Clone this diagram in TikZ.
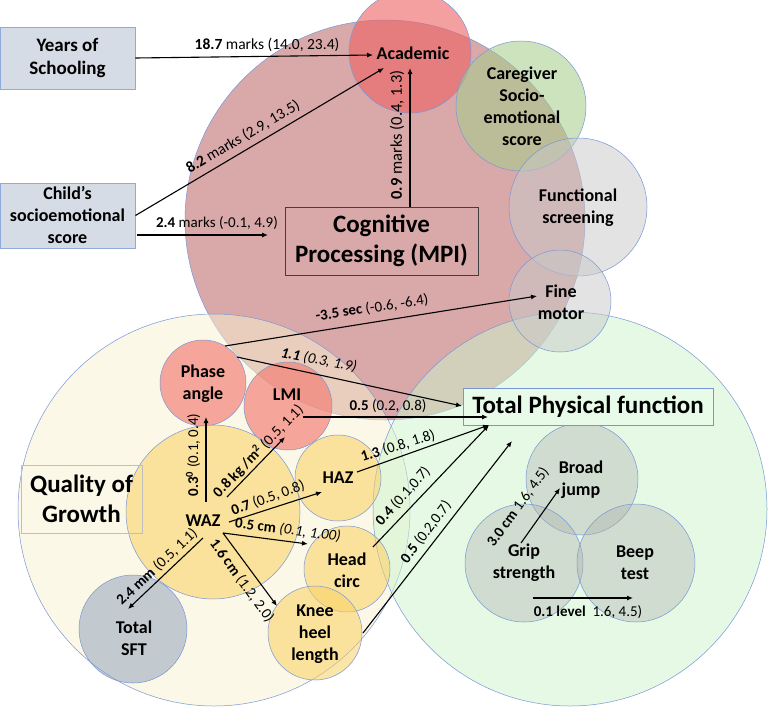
\documentclass[tikz,border=0pt]{standalone}
\usepackage{fontspec}
\setmainfont{Carlito}
\usetikzlibrary{arrows.meta}
\definecolor{cogc}{RGB}{171,66,68}
\definecolor{acadc}{RGB}{238,97,97}
\definecolor{carec}{RGB}{163,205,138}
\definecolor{greyc}{RGB}{201,201,201}
\definecolor{creamc}{RGB}{251,243,209}
\definecolor{physc}{RGB}{205,245,205}
\definecolor{salmc}{RGB}{242,122,112}
\definecolor{yelc}{RGB}{250,208,97}
\definecolor{sftc}{RGB}{138,155,185}
\definecolor{fitc}{RGB}{175,178,175}
\definecolor{edgec}{RGB}{120,150,215}
\definecolor{boxfill}{RGB}{214,220,229}
\definecolor{boxedge}{RGB}{143,170,220}
\definecolor{tpfill}{RGB}{232,250,232}
\tikzset{
  circ/.style={draw=edgec, line width=0.5pt},
  lbl/.style={font=\bfseries\fontsize{18}{22}\selectfont, align=center, text=black, inner sep=1pt},
  big/.style={font=\bfseries\fontsize{25}{30}\selectfont, align=center, inner sep=1pt},
  arr/.style={-{Latex[length=6pt,width=5pt]}, line width=1.1pt},
  val/.style={font=\fontsize{15}{17}\selectfont, inner sep=0pt},
  valbig/.style={font=\fontsize{15.5}{18}\selectfont, inner sep=0pt}
}
\begin{document}
\begin{tikzpicture}[x=1pt,y=-1pt]
\clip (0,0) rectangle (768,710);
\fill[white] (0,0) rectangle (768,710);
% big circles
\path[circ, fill=cogc, fill opacity=0.45] (385,220) circle[radius=200];
\path[circ, fill=creamc, fill opacity=0.5] (214,510) circle[radius=196];
\path[circ, fill=physc, fill opacity=0.5] (570,509) circle[radius=197];
% cognitive satellites
\path[circ, fill=acadc, fill opacity=0.6] (410,52) circle[radius=61];
\path[circ, fill=carec, fill opacity=0.55] (521,106) circle[radius=65];
\path[circ, fill=greyc, fill opacity=0.5] (578,207) circle[radius=69];
\path[circ, fill=greyc, fill opacity=0.5] (560,301) circle[radius=51];
% growth circles
\path[circ, fill=salmc, fill opacity=0.65] (203,383) circle[radius=43];
\path[circ, fill=salmc, fill opacity=0.65] (288,406) circle[radius=44];
\path[circ, fill=yelc, fill opacity=0.55] (213,512) circle[radius=87];
\path[circ, fill=yelc, fill opacity=0.55] (338,478) circle[radius=43];
\path[circ, fill=yelc, fill opacity=0.55] (347,569) circle[radius=43];
\path[circ, fill=yelc, fill opacity=0.55] (315,633) circle[radius=47];
\path[circ, fill=sftc, fill opacity=0.5] (133,629) circle[radius=54];
% physical circles
\path[circ, fill=fitc, fill opacity=0.4] (582,479) circle[radius=56];
\path[circ, fill=fitc, fill opacity=0.4] (524,563) circle[radius=59];
\path[circ, fill=fitc, fill opacity=0.4] (636,563) circle[radius=59];

% boxes
\node[draw=boxedge, fill=boxfill, line width=0.9pt, minimum width=135, minimum height=62, lbl, font=\bfseries\fontsize{19}{23}\selectfont] (years) at (67.5,58) {Years of\\Schooling};
\node[draw=boxedge, fill=boxfill, line width=0.9pt, minimum width=135, minimum height=65, lbl] (child) at (67.5,215.5) {Child's\\socioemotional\\score};
\node[draw=black!75, line width=0.8pt, minimum width=193, minimum height=68, big] (cog) at (381.5,241) {Cognitive\\Processing (MPI)};
\node[draw=edgec, fill=tpfill, line width=0.8pt, minimum width=250, minimum height=37, big] (tpf) at (588,406.5) {Total Physical function};
\node[draw=black!25, line width=0.8pt, minimum width=121, minimum height=68, big] (qog) at (81.5,499) {Quality of\\Growth};

% circle labels
\node[lbl] (acad) at (413,53) {Academic};
\node[lbl] (care) at (522,106) {Caregiver\\Socio-\\emotional\\score};
\node[lbl] (func) at (578,208) {Functional\\screening};
\node[lbl] (fine) at (561,302) {Fine\\motor};
\node[lbl] (phase) at (203,384) {Phase\\angle};
\node[lbl] (lmi) at (287,395) {LMI};
\node[lbl] (waz) at (203,521) {WAZ};
\node[lbl] (haz) at (338,478) {HAZ};
\node[lbl] (head) at (347,570) {Head\\circ};
\node[lbl] (knee) at (315,634) {Knee\\heel\\length};
\node[lbl] (sft) at (134,638) {Total\\SFT};
\node[lbl] (broad) at (581,480) {Broad\\jump};
\node[lbl] (grip) at (524,563) {Grip\\strength};
\node[lbl] (beep) at (635,563) {Beep\\test};

% connector end points
\coordinate (c1e) at (373,55);
\coordinate (c2e) at (384,68);
\coordinate (c3s) at (137,235);
\coordinate (c3e) at (268,235);
\coordinate (c4s) at (410,207);
\coordinate (c4e) at (410,68);
\coordinate (c5s) at (225,346);
\coordinate (c5e) at (537,296);
\coordinate (c6s) at (237,357);
\coordinate (c6e) at (462,406);
\coordinate (c7s) at (303,417);
\coordinate (c7e) at (488,417);
\coordinate (c8s) at (206,502);
\coordinate (c8e) at (206,417);
\coordinate (c9s) at (227,497);
\coordinate (c9e) at (285,437);
\coordinate (c10s) at (229,522);
\coordinate (c10e) at (322,492);
\coordinate (c11s) at (223,533);
\coordinate (c11e) at (308,544);
\coordinate (c12s) at (223,533);
\coordinate (c12e) at (277,606);
\coordinate (c13s) at (203,538);
\coordinate (c13e) at (128,609);
\coordinate (c14s) at (357,472);
\coordinate (c14e) at (489,425);
\coordinate (c15s) at (373,547);
\coordinate (c16s) at (363,633);
\coordinate (c16e) at (512,441);
\coordinate (c17s) at (521,543);
\coordinate (c17e) at (560,488);
\coordinate (c18s) at (533,598);
\coordinate (c18e) at (633,598);

% connectors
\draw[arr] (years.east) -- (c1e);
\draw[arr] (child.east) -- (c2e);
\draw[arr] (c3s) -- (c3e);
\draw[arr] (c4s) -- (c4e);
\draw[arr] (c5s) -- (c5e);
\draw[arr] (c6s) -- (c6e);
\draw[arr] (c7s) -- (c7e);
\draw[arr] (c8s) -- (c8e);
\draw[arr] (c9s) -- (c9e);
\draw[arr] (c10s) -- (c10e);
\draw[arr] (c11s) -- (c11e);
\draw[arr] (c12s) -- (c12e);
\draw[arr] (c13s) -- (c13e);
\draw[arr] (c14s) -- (c14e);
\draw[arr] (c15s) -- (c14e);
\draw[arr] (c16s) -- (c16e);
\draw[arr] (c17s) -- (c17e);
\draw[arr] (c18s) -- (c18e);

% connector labels
\node[valbig] (l1) at (267,45) {\textbf{18.7} marks (14.0, 23.4)};
\node[valbig, rotate=30.6] (l2) at (243,137) {\textbf{8.2} marks (2.9, 13.5)};
\node[val] (l3) at (217,223) {\textbf{2.4} marks (-0.1, 4.9)};
\node[val, font=\fontsize{16.5}{18}\selectfont, rotate=90] (l4) at (397,135) {\textbf{0.9} marks (0.4, 1.3)};
\node[val, rotate=8.5] (l5) at (372,308) {\textbf{-3.5 sec} (-0.6, -6.4)};
\node[val, rotate=-11] (l6) at (319,360) {\textbf{\textit{1.1}} \textit{(0.3, 1.9)}};
\node[val] (l7) at (388,406) {\textbf{0.5} (0.2, 0.8)};
\node[val, rotate=90] (l8) at (193,455) {\textbf{0.3\textsuperscript{0}} (0.1, 0.4)};
\node[val, rotate=46] (l9) at (258,451) {\textbf{0.8 kg /m\textsuperscript{2}} (0.5, 1.1)};
\node[val, rotate=20] (l10) at (268,498) {\textbf{0.7} (0.5, 0.8)};
\node[val, rotate=-7] (l11) at (288,530) {\textbf{0.5 cm} \textit{(0.1, 1.00)}};
\node[val, rotate=-54] (l12) at (242,581) {\textbf{1.6 cm} (1.2, 2.0)};
\node[val, rotate=43] (l13) at (157,567) {\textbf{2.4 mm} (0.5, 1.1)};
\node[val, rotate=17] (l14) at (398,446) {\textbf{1.3} (0.8, 1.8)};
\node[val, rotate=48] (l15) at (403,496) {\textbf{0.4} (0.1,0.7)};
\node[val, rotate=53] (l16) at (426,532) {\textbf{0.5} (0.2,0.7)};
\node[val, rotate=54] (l17) at (518,507) {\textbf{3.0 cm} 1.6, 4.5)};
\node[val] (l18) at (588,612) {\textbf{0.1 level}\ \ 1.6, 4.5)};
\end{tikzpicture}
\end{document}
